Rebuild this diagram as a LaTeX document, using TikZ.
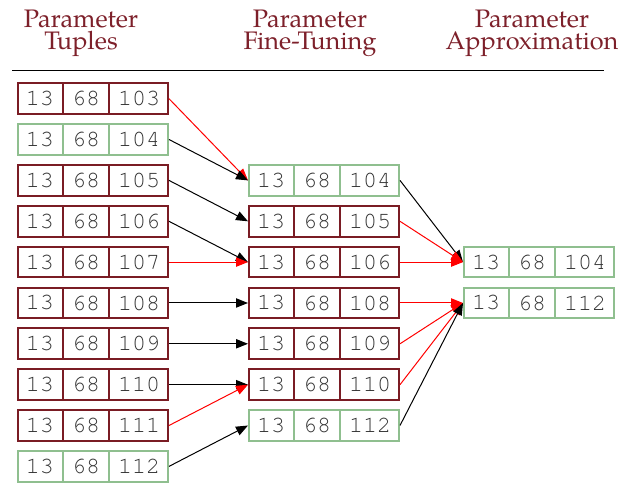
\documentclass[tikz,border=0pt]{standalone}
\usepackage{fontspec}
\usetikzlibrary{shapes.multipart,arrows.meta}
\newfontfamily\headfont{TeX Gyre Pagella}
\newfontfamily\cellfont{TeX Gyre Cursor}
\definecolor{wine}{RGB}{122,28,36}
\definecolor{sage}{RGB}{143,191,143}
\definecolor{headred}{RGB}{125,32,42}

\tikzset{
    tuple/.style={rectangle split, rectangle split horizontal, rectangle split parts=3,
        draw, line width=1.5pt, anchor=west, inner xsep=6pt, inner ysep=6pt,
        text height=10.5pt, text depth=0pt, text=black!80,
        font=\cellfont\fontsize{17.5}{20}\selectfont},
    badtuple/.style={tuple, draw=wine},
    goodtuple/.style={tuple, draw=sage},
    header/.style={align=center, anchor=north, inner sep=0pt, text=headred,
        font=\headfont\fontsize{19}{17}\selectfont},
    link/.style={-{Triangle[length=9pt,width=7pt]}, line width=0.75pt, black},
    redlink/.style={link, red},
}

\begin{document}
\begin{tikzpicture}[x=0.75pt,y=-0.75pt]
    \useasboundingbox (0,0) rectangle (644,491);

    \node[header] (hdtuples) at (81,9.5) {Parameter\\Tuples};
    \node[header] (hdfine) at (310,9.5) {Parameter\\Fine-Tuning};
    \node[header] (hdappr) at (532,9.5) {Parameter\\Approximation};

    \draw[line width=0.75pt] (12,71) -- (604,71);

    \node[badtuple] (tup103) at (17,98.7) {13\nodepart{two}68\nodepart{three}103};
    \node[goodtuple] (tup104) at (17,139.5) {13\nodepart{two}68\nodepart{three}104};
    \node[badtuple] (tup105) at (17,180.4) {13\nodepart{two}68\nodepart{three}105};
    \node[badtuple] (tup106) at (17,221.3) {13\nodepart{two}68\nodepart{three}106};
    \node[badtuple] (tup107) at (17,262.1) {13\nodepart{two}68\nodepart{three}107};
    \node[badtuple] (tup108) at (17,303) {13\nodepart{two}68\nodepart{three}108};
    \node[badtuple] (tup109) at (17,343.8) {13\nodepart{two}68\nodepart{three}109};
    \node[badtuple] (tup110) at (17,384.7) {13\nodepart{two}68\nodepart{three}110};
    \node[badtuple] (tup111) at (17,425.5) {13\nodepart{two}68\nodepart{three}111};
    \node[goodtuple] (tup112) at (17,466.4) {13\nodepart{two}68\nodepart{three}112};

    \node[goodtuple] (fine104) at (248,180.4) {13\nodepart{two}68\nodepart{three}104};
    \node[badtuple] (fine105) at (248,221.3) {13\nodepart{two}68\nodepart{three}105};
    \node[badtuple] (fine106) at (248,262.1) {13\nodepart{two}68\nodepart{three}106};
    \node[badtuple] (fine108) at (248,303) {13\nodepart{two}68\nodepart{three}108};
    \node[badtuple] (fine109) at (248,343.8) {13\nodepart{two}68\nodepart{three}109};
    \node[badtuple] (fine110) at (248,384.7) {13\nodepart{two}68\nodepart{three}110};
    \node[goodtuple] (fine112) at (248,425.5) {13\nodepart{two}68\nodepart{three}112};

    \node[goodtuple] (appr104) at (463,262.1) {13\nodepart{two}68\nodepart{three}104};
    \node[goodtuple] (appr112) at (463,303) {13\nodepart{two}68\nodepart{three}112};

    \draw[redlink] (tup103.east) -- (fine104.west);
    \draw[link] (tup104.east) -- (fine104.west);
    \draw[link] (tup105.east) -- (fine105.west);
    \draw[link] (tup106.east) -- (fine106.west);
    \draw[redlink] (tup107.east) -- (fine106.west);
    \draw[link] (tup108.east) -- (fine108.west);
    \draw[link] (tup109.east) -- (fine109.west);
    \draw[link] (tup110.east) -- (fine110.west);
    \draw[redlink] (tup111.east) -- (fine110.west);
    \draw[link] (tup112.east) -- (fine112.west);

    \draw[link] (fine104.east) -- (appr104.west);
    \draw[redlink] (fine105.east) -- (appr104.west);
    \draw[redlink] (fine106.east) -- (appr104.west);
    \draw[redlink] (fine108.east) -- (appr112.west);
    \draw[redlink] (fine109.east) -- (appr112.west);
    \draw[redlink] (fine110.east) -- (appr112.west);
    \draw[link] (fine112.east) -- (appr112.west);
\end{tikzpicture}
\end{document}
